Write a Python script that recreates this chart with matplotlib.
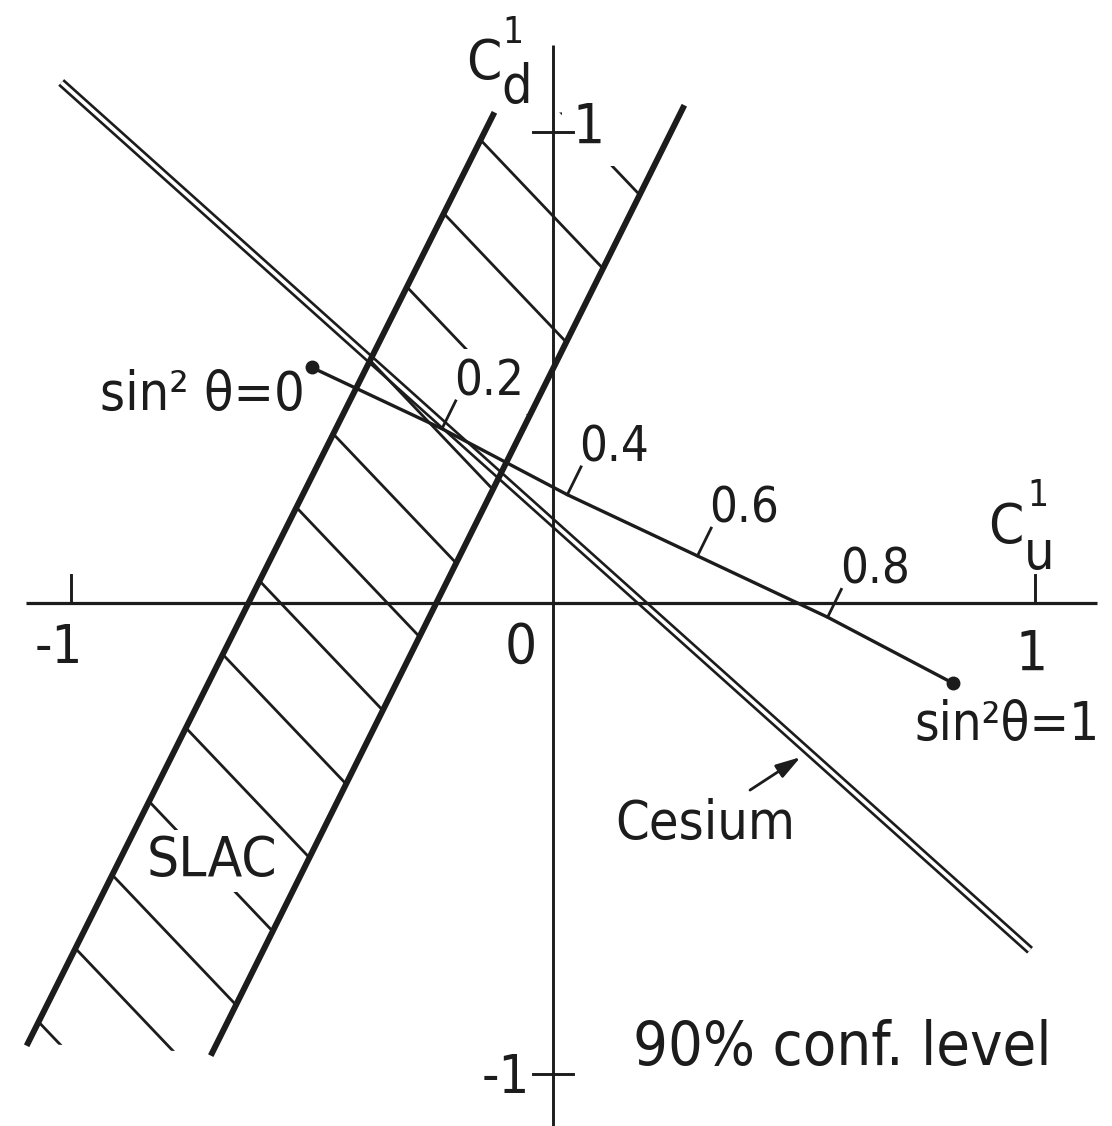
import numpy as np
import matplotlib
matplotlib.use('Agg')
import matplotlib.pyplot as plt
from matplotlib import font_manager
from matplotlib.patches import Polygon

# ---------------- data (C1u, C1d plane) ----------------

# standard-model prediction as sin^2(theta) runs from 0 to 1
sin2_theta = [0.0, 0.2, 0.4, 0.6, 0.8, 1.0]
c1u_sm = [-0.50, -0.23, 0.03, 0.30, 0.57, 0.83]
c1d_sm = [0.50, 0.37, 0.23, 0.10, -0.03, -0.17]
sin2_tick_labels = ['0.2', '0.4', '0.6', '0.8']

# cesium atomic parity violation (narrow band)
cesium_c1u = [-1.02, 0.99]
cesium_c1d = [1.105, -0.737]

# SLAC e-D asymmetry, 90% CL band edges
slac_lo_c1u = [-1.089, -0.124]
slac_lo_c1d = [-0.934, 1.036]
slac_hi_c1u = [-0.707, 0.270]
slac_hi_c1d = [-0.955, 1.051]

axis_ticks = [-1, 1]

INK = '#1c1c1c'

# narrow sans face if one is around, plain DejaVu otherwise
_faces = {(f.name, f.stretch) for f in font_manager.fontManager.ttflist}
_names = {n for n, _ in _faces}
if 'Liberation Sans Narrow' in _names:
    FONT = dict(family='Liberation Sans Narrow')
    SCALE = 1.0
elif ('DejaVu Sans', 'condensed') in _faces:
    FONT = dict(family='DejaVu Sans', stretch='condensed')
    SCALE = 0.88
else:
    FONT = dict(family='DejaVu Sans')
    SCALE = 0.8


def label(x, y, s, size, **kw):
    return ax.text(x, y, s, fontsize=size * SCALE, color=INK, **FONT, **kw)


fig = plt.figure(figsize=(11.12, 11.26), dpi=100)
ax = fig.add_axes([0, 0, 1, 1])
ax.set_xlim(-1.147, 1.160)
ax.set_ylim(-1.110, 1.280)
ax.axis('off')

# ---- coordinate axes ----
ax.plot([-1.093, 1.129], [0, 0], color=INK, lw=2.3, solid_capstyle='butt', zorder=4)
ax.plot([0, 0], [-1.11, 1.185], color=INK, lw=2.1, solid_capstyle='butt', zorder=4)
for t in axis_ticks:
    ax.plot([t, t], [0, 0.06], color=INK, lw=2.1, zorder=4)
    ax.plot([-0.042, 0.042], [t, t], color=INK, lw=2.1, zorder=4)

label(-1.025, -0.096, '-1', 44, ha='center', va='center')
label(-0.066, -0.096, '0', 46, ha='center', va='center')
label(0.994, -0.110, '1', 46, ha='center', va='center')
label(-0.098, -1.008, '-1', 44, ha='center', va='center')
label(0.075, 1.008, '1', 46, ha='center', va='center',
      bbox=dict(facecolor='white', edgecolor='none', pad=8), zorder=3)

# axis names C^1_d and C^1_u
label(-0.143, 1.144, 'C', 46, ha='center', va='center')
label(-0.083, 1.212, '1', 30, ha='center', va='center')
label(-0.075, 1.093, 'd', 44, ha='center', va='center')
label(0.940, 0.159, 'C', 46, ha='center', va='center')
label(1.006, 0.228, '1', 30, ha='center', va='center')
label(1.008, 0.104, 'u', 44, ha='center', va='center')

# ---- cesium: double line ----
ax.plot(cesium_c1u, cesium_c1d, color=INK, lw=6.4, solid_capstyle='butt', zorder=2)
ax.plot(cesium_c1u, cesium_c1d, color='white', lw=2.6, solid_capstyle='butt', zorder=2.1)

# ---- SLAC band with hand-style hatching ----
band = Polygon([(slac_lo_c1u[0], slac_lo_c1d[0]), (slac_lo_c1u[1], slac_lo_c1d[1]),
                (slac_hi_c1u[1], slac_hi_c1d[1]), (slac_hi_c1u[0], slac_hi_c1d[0])],
               closed=True, facecolor='none', edgecolor='none')
ax.add_patch(band)
# edges sit above the white label boxes, hatching sits below them
ax.plot(slac_lo_c1u, slac_lo_c1d, color=INK, lw=4.3, zorder=3.5)
ax.plot(slac_hi_c1u, slac_hi_c1d, color=INK, lw=4.3, zorder=3.5)

m_edge = (slac_lo_c1d[1] - slac_lo_c1d[0]) / (slac_lo_c1u[1] - slac_lo_c1u[0])
hatch_slope = -1.075
for y0 in np.arange(1.139, -0.90, -0.156):
    x0 = slac_lo_c1u[0] + (y0 - slac_lo_c1d[0]) / m_edge
    xs = np.array([x0 - 0.1, x0 + 0.7])
    ln, = ax.plot(xs, y0 + hatch_slope * (xs - x0), color=INK, lw=2.0, zorder=2.2)
    ln.set_clip_path(band)

# ---- sin^2 theta line ----
ax.plot(c1u_sm, c1d_sm, color=INK, lw=2.4, zorder=3.4)
ax.plot([c1u_sm[0], c1u_sm[-1]], [c1d_sm[0], c1d_sm[-1]], 'o', ms=9, color=INK, zorder=3.4)

to_px = ax.transData.transform
to_data = ax.transData.inverted().transform
p0, p1 = to_px([(c1u_sm[0], c1d_sm[0]), (c1u_sm[-1], c1d_sm[-1])])
along = (p1 - p0) / np.hypot(*(p1 - p0))
normal = np.array([-along[1], along[0]])
for u, d, txt in zip(c1u_sm[1:-1], c1d_sm[1:-1], sin2_tick_labels):
    base = to_px((u, d))
    tip = to_data(base + 31 * normal)
    ax.plot([u, tip[0]], [d, tip[1]], color=INK, lw=2.0, zorder=3.4)
    ann = ax.annotate(txt, xy=tip, xytext=(24, 14), textcoords='offset points',
                      ha='center', va='center', fontsize=40 * SCALE, color=INK, **FONT)
    if txt == '0.2':
        ann.set_bbox(dict(facecolor='white', edgecolor='none', pad=6))

label(-0.515, 0.410, 'sin² θ=0', 44, ha='right', va='baseline')
label(0.751, -0.291, 'sin²θ=1', 43, ha='left', va='baseline')

# ---- annotations ----
label(0.317, -0.469, 'Cesium', 44, ha='center', va='center')
ax.annotate('', xy=(0.514, -0.327), xytext=(0.409, -0.397),
            arrowprops=dict(arrowstyle='-|>,head_length=1.5,head_width=0.45',
                            lw=2.0, color=INK, shrinkA=0, shrinkB=0), zorder=3)
label(-0.707, -0.548, 'SLAC', 46, ha='center', va='center',
      bbox=dict(facecolor='white', edgecolor='none', pad=3), zorder=3)
label(0.600, -0.945, '90% conf. level', 50, ha='center', va='center')

fig.savefig('out.png', dpi=100, facecolor='white')
